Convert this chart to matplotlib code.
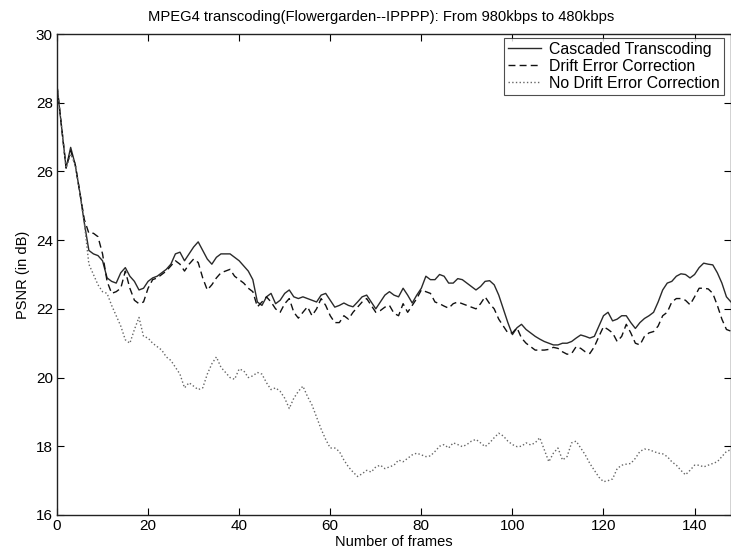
import matplotlib
matplotlib.use("Agg")
import matplotlib.pyplot as plt
import numpy as np

plt.rcParams['font.family'] = ['Liberation Sans', 'DejaVu Sans']

frames = list(range(0, 149))

cascaded = [28.5, 27.3, 26.1, 26.7, 26.2, 25.4, 24.5, 23.7, 23.6, 23.55,
            23.4, 22.9, 22.8, 22.75, 23.05, 23.2, 22.95, 22.8, 22.55, 22.6,
            22.8, 22.9, 22.95, 23.05, 23.15, 23.3, 23.6, 23.65, 23.4, 23.6,
            23.8, 23.95, 23.7, 23.45, 23.3, 23.5, 23.6, 23.6, 23.6, 23.5,
            23.4, 23.25, 23.1, 22.85, 22.2, 22.1, 22.35, 22.45, 22.15, 22.25,
            22.45, 22.55, 22.35, 22.3, 22.35, 22.3, 22.25, 22.2, 22.4, 22.45,
            22.25, 22.05, 22.1, 22.17, 22.1, 22.06, 22.2, 22.35, 22.4, 22.2,
            22.0, 22.2, 22.4, 22.5, 22.4, 22.35, 22.6, 22.4, 22.17, 22.4,
            22.6, 22.95, 22.85, 22.85, 23.0, 22.95, 22.75, 22.75, 22.88, 22.85,
            22.75, 22.65, 22.55, 22.65, 22.8, 22.82, 22.7, 22.4, 22.0, 21.6,
            21.25, 21.45, 21.55, 21.4, 21.3, 21.2, 21.12, 21.05, 21.0, 20.95,
            20.95, 21.0, 21.0, 21.05, 21.15, 21.24, 21.2, 21.15, 21.2, 21.5,
            21.8, 21.9, 21.65, 21.7, 21.8, 21.8, 21.6, 21.43, 21.6, 21.72,
            21.8, 21.9, 22.2, 22.55, 22.75, 22.8, 22.95, 23.02, 23.0, 22.9,
            23.0, 23.2, 23.33, 23.3, 23.28, 23.05, 22.75, 22.35, 22.2]

drift_corr = [28.5, 27.3, 26.1, 26.6, 26.2, 25.4, 24.6, 24.2, 24.2, 24.1,
              23.6, 22.8, 22.45, 22.5, 22.6, 23.1, 22.6, 22.25, 22.15, 22.2,
              22.6, 22.85, 22.9, 23.0, 23.1, 23.25, 23.4, 23.3, 23.1, 23.3,
              23.45, 23.35, 22.9, 22.55, 22.7, 22.9, 23.05, 23.1, 23.15, 22.95,
              22.85, 22.75, 22.6, 22.5, 22.06, 22.2, 22.35, 22.2, 22.0, 21.9,
              22.15, 22.3, 21.9, 21.73, 21.9, 22.06, 21.8, 22.0, 22.3, 22.1,
              21.8, 21.6, 21.6, 21.8, 21.7, 21.9, 22.05, 22.2, 22.3, 22.1,
              21.9, 21.95, 22.05, 22.1, 21.87, 21.8, 22.15, 21.9, 22.1, 22.3,
              22.55, 22.5, 22.45, 22.2, 22.15, 22.08, 22.02, 22.15, 22.2, 22.15,
              22.1, 22.05, 22.0, 22.15, 22.35, 22.15, 22.0, 21.7, 21.5, 21.3,
              21.3, 21.45, 21.15, 21.0, 20.9, 20.8, 20.8, 20.8, 20.82, 20.88,
              20.85, 20.75, 20.68, 20.7, 20.9, 20.85, 20.75, 20.7, 20.9, 21.2,
              21.48, 21.4, 21.3, 21.05, 21.2, 21.55, 21.3, 21.0, 20.95, 21.2,
              21.3, 21.34, 21.5, 21.8, 21.9, 22.2, 22.3, 22.3, 22.25, 22.12,
              22.35, 22.6, 22.6, 22.58, 22.45, 22.1, 21.7, 21.4, 21.35]

no_drift_corr = [28.5, 27.3, 26.1, 26.5, 26.2, 25.4, 24.5, 23.3, 23.0, 22.7,
                 22.5, 22.45, 22.1, 21.8, 21.5, 21.1, 21.0, 21.4, 21.75, 21.2,
                 21.15, 21.0, 20.9, 20.8, 20.6, 20.5, 20.3, 20.1, 19.7, 19.85,
                 19.75, 19.65, 19.7, 20.1, 20.4, 20.6, 20.3, 20.15, 20.0, 19.95,
                 20.25, 20.2, 20.0, 20.05, 20.15, 20.1, 19.85, 19.65, 19.7, 19.6,
                 19.4, 19.1, 19.4, 19.6, 19.75, 19.45, 19.2, 18.85, 18.5, 18.2,
                 17.95, 17.95, 17.85, 17.6, 17.4, 17.25, 17.12, 17.2, 17.3, 17.25,
                 17.4, 17.45, 17.35, 17.4, 17.45, 17.6, 17.55, 17.65, 17.75, 17.8,
                 17.75, 17.7, 17.72, 17.85, 18.0, 18.05, 17.95, 18.1, 18.05, 17.99,
                 18.05, 18.15, 18.2, 18.1, 17.99, 18.1, 18.25, 18.38, 18.3, 18.15,
                 18.05, 17.99, 18.0, 18.1, 18.04, 18.1, 18.25, 17.9, 17.55, 17.8,
                 17.95, 17.6, 17.7, 18.1, 18.15, 17.95, 17.75, 17.5, 17.3, 17.1,
                 16.97, 17.0, 17.05, 17.35, 17.45, 17.48, 17.5, 17.65, 17.85, 17.92,
                 17.9, 17.85, 17.8, 17.78, 17.7, 17.55, 17.45, 17.3, 17.17, 17.3,
                 17.45, 17.45, 17.4, 17.45, 17.5, 17.55, 17.7, 17.85, 17.9]

labels = ["Cascaded Transcoding", "Drift Error Correction", "No Drift Error Correction"]
xticks = [0, 20, 40, 60, 80, 100, 120, 140]
yticks = [16, 18, 20, 22, 24, 26, 28, 30]

fig = plt.figure(figsize=(7.31, 5.53), dpi=100)
ax = fig.add_axes([57 / 731, 1 - 515 / 553, (731 - 57) / 731, (515 - 34) / 553])

ax.plot(frames, cascaded, '-', color='#2a2a2a', lw=1.0, label=labels[0])
ax.plot(frames, drift_corr, '--', color='#111111', lw=1.0, dashes=(5, 3), label=labels[1])
ax.plot(frames, no_drift_corr, ':', color='#666666', lw=1.0, label=labels[2])

ax.set_xlim(0, 148)
ax.set_ylim(16, 30)
ax.set_xticks(xticks)
ax.set_yticks(yticks)
ax.tick_params(direction='in', top=True, right=True, length=5, width=0.8,
               labelsize=11, pad=3)
for s in ax.spines.values():
    s.set_linewidth(1.0)
    s.set_color('#222222')

ax.text(0.481, 1.02, "MPEG4 transcoding(Flowergarden--IPPPP): From 980kbps to 480kbps",
        transform=ax.transAxes, ha='center', va='bottom', fontsize=10.6)
ax.set_xlabel("Number of frames", fontsize=10.5, labelpad=1)
ax.set_ylabel("PSNR (in dB)", fontsize=10.5, labelpad=4)

leg = ax.legend(loc='upper right', bbox_to_anchor=(0.9896, 0.992), fontsize=11.4,
                frameon=True, fancybox=False, edgecolor='#222222',
                handlelength=2.1, handletextpad=0.5, borderpad=0.25,
                labelspacing=0.12, borderaxespad=0.0)
leg.get_frame().set_linewidth(0.8)

fig.savefig("out.png", dpi=100)
